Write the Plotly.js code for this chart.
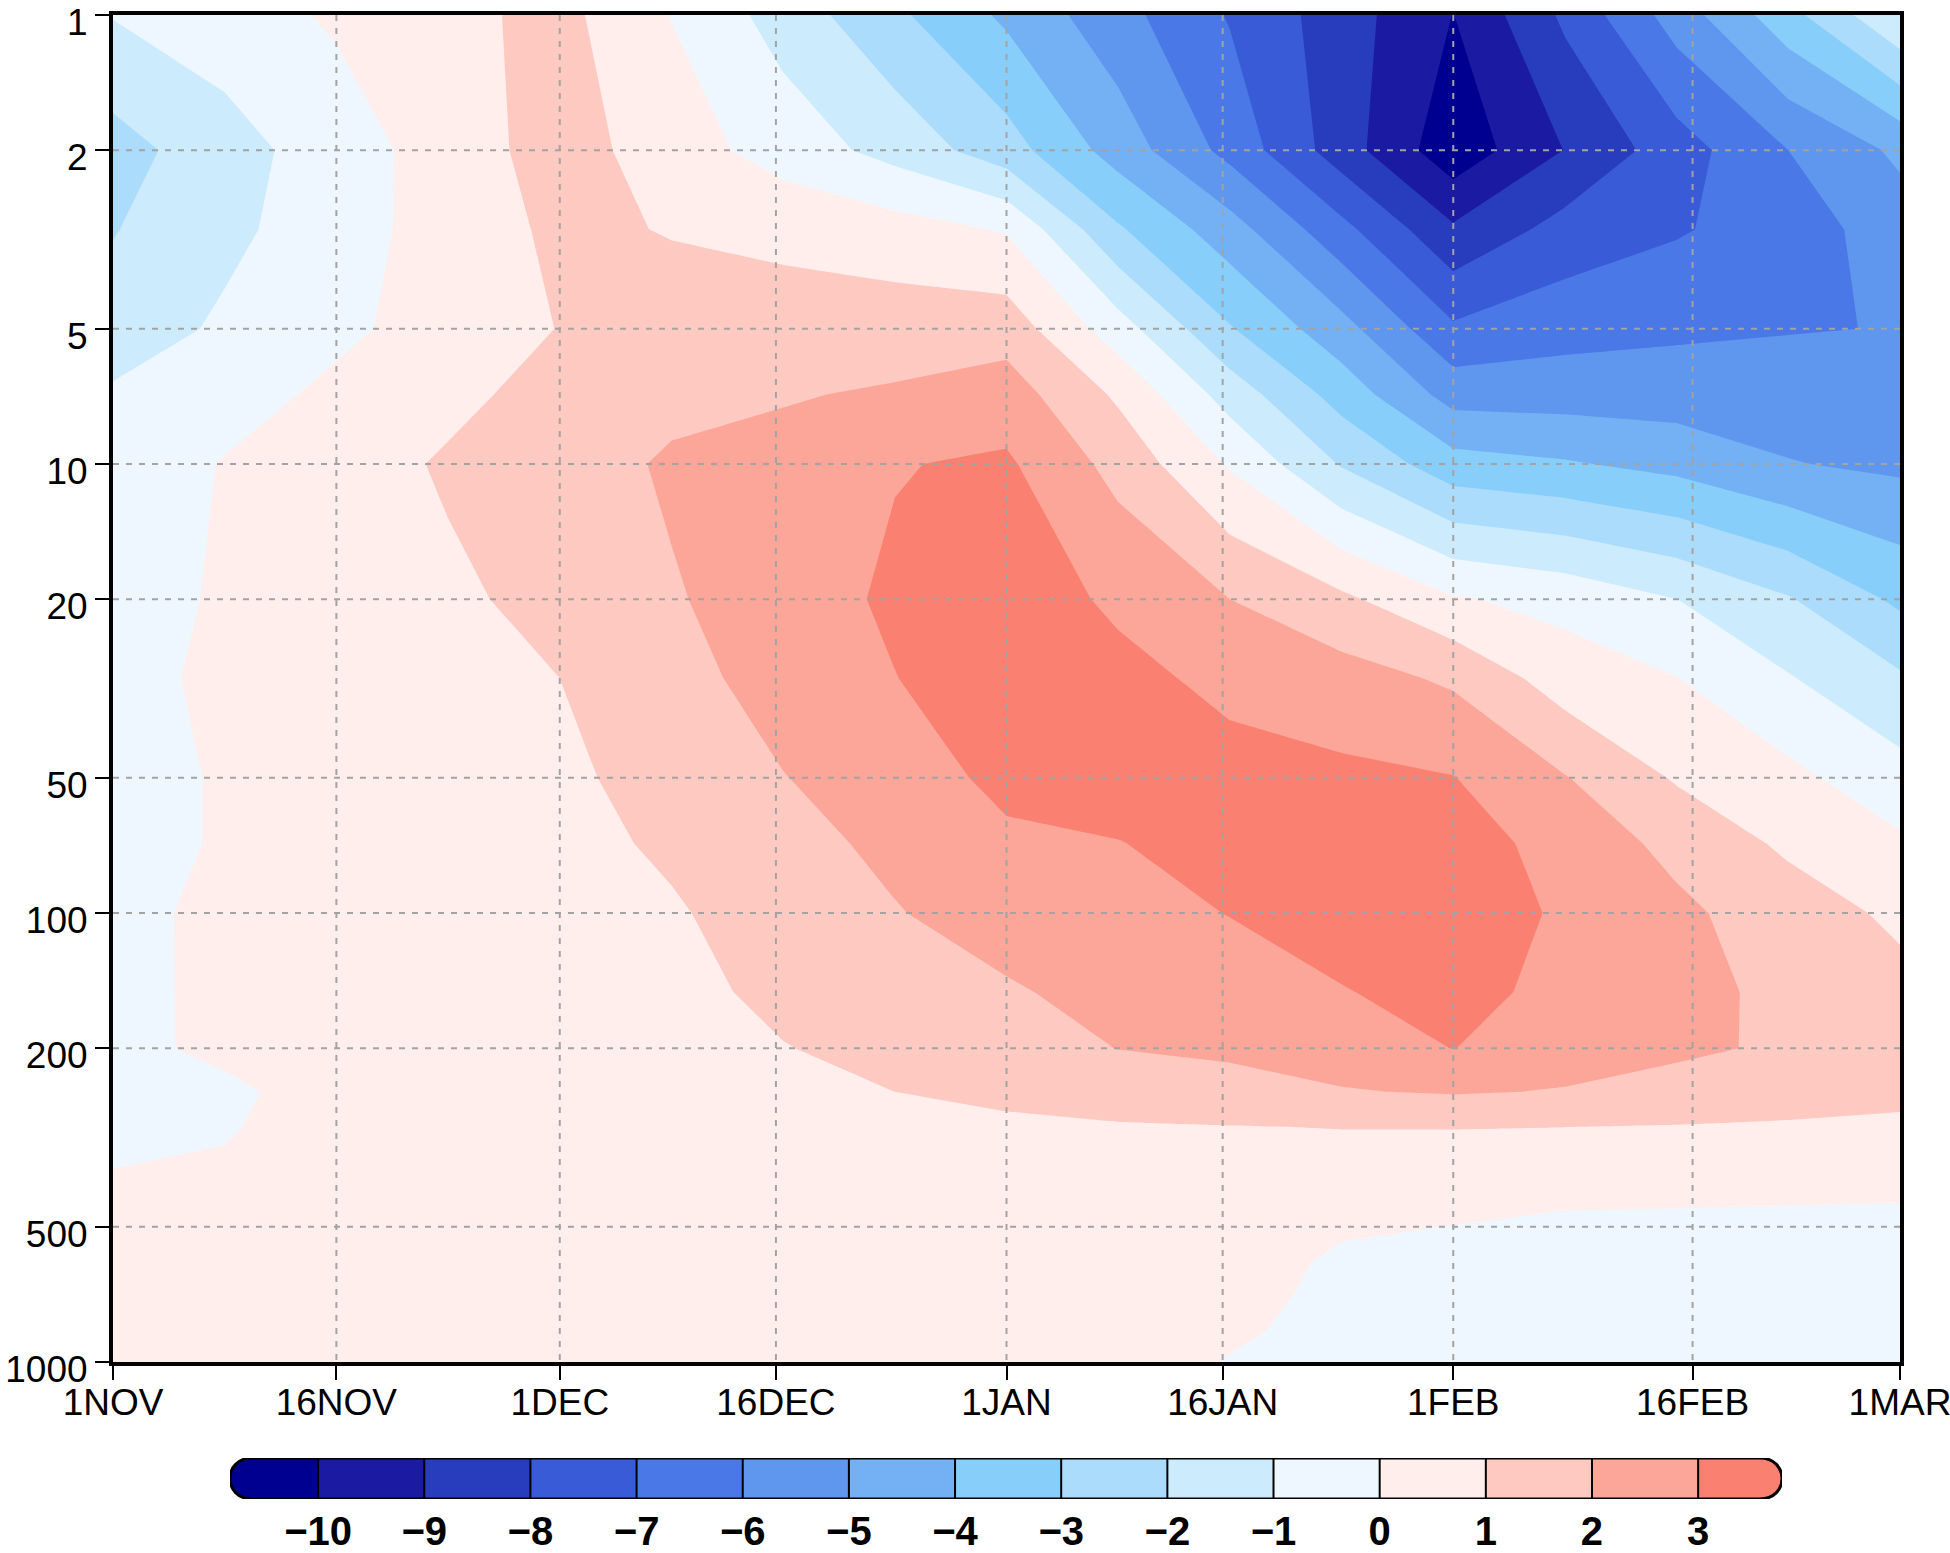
<!DOCTYPE html>
<html><head><meta charset="utf-8">
<script src="https://cdn.plot.ly/plotly-3.0.1.min.js"></script>
<style>html,body{margin:0;padding:0;background:#fff;}#chart{width:1950px;height:1553px;}</style>
</head><body><div id="chart"></div>
<script>
// ---------- data ----------
// time axis in month units (0 = 1NOV, 4 = 1MAR), 1/4-month steps
const timeSteps = [0,0.25,0.5,0.75,1,1.25,1.5,1.75,2,2.25,2.5,2.75,3,3.25,3.5,3.75,4];
const monthLengths = [30,31,31,28];            // NOV, DEC, JAN, FEB
const tickLabels = ['1NOV','16NOV','1DEC','16DEC','1JAN','16JAN','1FEB','16FEB','1MAR'];
const pressureLevels = [1,2,3,5,7,10,20,30,50,70,100,150,200,250,300,400,500,600,700,850,925,1000];
const pressureTicks = [1,2,5,10,20,50,100,200,500,1000];
const contourLevels = [-10,-9,-8,-7,-6,-5,-4,-3,-2,-1,0,1,2,3];
const bandColors = ['#000090','#1a1aa2','#283dbe','#3a5bd8','#4a78e6','#5f96ee','#74b0f4','#87cefa',
                    '#acdcfb','#ccebfd','#eef7ff','#ffeeec','#fdc9c1','#fca699','#fa8072'];

// anomaly values per pressure level (columns follow timeSteps)
const p1hPa    = [-0.95,-0.44,0.13,0.72,1.3,-0.03,-1.42,-2.8,-4.19,-5.65,-7.08,-8.53,-10.02,-7.81,-5.54,-3.34,-1.05];
const p2hPa    = [-2.4,-1.42,-0.48,0.45,1.45,0.5,-0.43,-1.35,-2.57,-4.43,-6.32,-8.52,-10.67,-8.97,-7.46,-6.0,-4.8];
const p3hPa    = [-2.05,-1.25,-0.43,0.42,1.2,0.95,0.72,0.41,-0.09,-2.88,-4.57,-6.7,-8.85,-7.63,-7.1,-6.5,-5.5];
const p5hPa    = [-1.6,-0.83,-0.2,0.4,1.03,1.4,1.5,1.52,1.57,-0.54,-2.92,-4.63,-6.84,-6.37,-6.17,-6.05,-5.97];
const p7hPa    = [-0.85,-0.4,0.21,0.79,1.3,1.7,1.93,2.11,2.48,0.84,-1.43,-3.41,-5.4,-5.44,-5.49,-5.52,-5.7];
const p10hPa   = [-0.7,0.06,0.6,1.1,1.45,2.15,2.3,2.95,3.15,1.67,-0.1,-2.08,-3.6,-3.9,-4.3,-4.95,-5.2];
const p20hPa   = [-0.6,0.17,0.46,0.85,1.25,1.9,2.55,3.15,3.5,2.84,2.0,1.2,0.1,-0.31,-0.99,-1.92,-3.2];
const p30hPa   = [-0.5,0.32,0.4,0.7,1.0,1.65,2.4,2.98,3.55,3.25,2.78,2.4,1.85,0.5,0.02,-0.93,-1.86];
const p50hPa   = [-0.5,0.125,0.35,0.6,0.82,1.35,1.97,2.5,3.25,3.45,3.3,3.2,3.03,2.05,0.9,0.25,-0.63];
const p70hPa   = [-0.5,0.125,0.35,0.55,0.7,1.15,1.7,2.2,2.82,2.97,3.35,3.5,3.5,2.6,1.74,0.82,0.16];
const p100hPa  = [-0.35,0.29,0.4,0.5,0.62,0.9,1.45,1.95,2.4,2.6,3.03,3.45,3.6,2.85,2.2,1.5,0.8];
const p150hPa  = [-0.3,0.245,0.4,0.45,0.55,0.75,1.2,1.6,1.9,2.3,2.5,2.95,3.35,2.7,2.3,1.77,1.3];
const p200hPa  = [-0.25,0.2,0.4,0.45,0.5,0.68,0.97,1.25,1.47,2.02,2.2,2.4,3.02,2.4,2.15,1.88,1.5];
const p250hPa  = [-0.3,-0.18,0.38,0.44,0.48,0.6,0.8,1.0,1.15,1.4,1.6,1.95,2.08,1.95,1.7,1.4,1.2];
const p300hPa  = [-0.2,-0.07,0.38,0.42,0.45,0.55,0.65,0.8,0.88,0.93,0.97,1.02,1.03,1.0,0.95,0.9,0.85];
const p400hPa  = [0.07,0.15,0.38,0.41,0.43,0.5,0.55,0.65,0.7,0.75,0.7,0.5,0.3,0.2,0.18,0.15,0.1];
const p500hPa  = [0.2,0.22,0.38,0.4,0.42,0.45,0.45,0.55,0.6,0.6,0.55,0.08,-0.01,-0.12,-0.13,-0.14,-0.12];
const p600hPa  = [0.25,0.26,0.37,0.39,0.41,0.43,0.43,0.52,0.55,0.5,0.3,-0.11,-0.2,-0.25,-0.25,-0.22,-0.2];
const p700hPa  = [0.28,0.28,0.37,0.38,0.4,0.4,0.42,0.5,0.5,0.45,0.25,-0.18,-0.28,-0.3,-0.3,-0.28,-0.28];
const p850hPa  = [0.3,0.3,0.36,0.37,0.39,0.39,0.4,0.45,0.45,0.4,0.1,-0.2,-0.33,-0.35,-0.33,-0.3,-0.3];
const p925hPa  = [0.3,0.3,0.36,0.36,0.38,0.38,0.38,0.42,0.42,0.37,0.03,-0.25,-0.35,-0.37,-0.35,-0.32,-0.32];
const p1000hPa = [0.3,0.3,0.36,0.36,0.38,0.38,0.38,0.4,0.4,0.35,-0.04,-0.3,-0.38,-0.4,-0.38,-0.35,-0.35];

const zRows = [p1hPa,p2hPa,p3hPa,p5hPa,p7hPa,p10hPa,p20hPa,p30hPa,p50hPa,p70hPa,p100hPa,p150hPa,
               p200hPa,p250hPa,p300hPa,p400hPa,p500hPa,p600hPa,p700hPa,p850hPa,p925hPa,p1000hPa];

// ---------- derived ----------
const timeTicks = [];
monthLengths.forEach((len, m) => { timeTicks.push(m); timeTicks.push(m + 15 / len); });
timeTicks.push(monthLengths.length);
const logP = pressureLevels.map(p => Math.log10(p));
const logTicks = pressureTicks.map(p => Math.log10(p));
const nb = bandColors.length;
const contourScale = bandColors.map((c, i) => [i / (nb - 1), c]);
const stepScale = [];
bandColors.forEach((c, i) => { stepScale.push([i / nb, c]); stepScale.push([(i + 1) / nb, c]); });

// colour-bar geometry in its own axis units (one unit per contour interval)
const lo = contourLevels[0], hi = contourLevels[contourLevels.length - 1];
const capL = 0.83, capR = 0.79;

const traces = [
  {
    type: 'contour', x: timeSteps, y: logP, z: zRows,
    autocontour: false,
    contours: {start: lo, end: hi, size: 1, coloring: 'fill', showlines: false},
    colorscale: contourScale, showscale: false, line: {width: 0, smoothing: 0},
    hoverinfo: 'skip', xaxis: 'x', yaxis: 'y'
  },
  {
    type: 'heatmap', x: contourLevels, y: [0, 1],
    z: [contourLevels.slice(1).map((v, i) => i + 1)],
    colorscale: stepScale, zmin: 0, zmax: nb, showscale: false,
    hoverinfo: 'skip', xaxis: 'x2', yaxis: 'y2'
  }
];

const grid = {color: '#a3a3a3', width: 2, dash: '6px,7px'};
const shapes = [];
timeTicks.slice(1, -1).forEach(t => shapes.push({type: 'line', xref: 'x', yref: 'y', x0: t, x1: t,
  y0: logTicks[0], y1: logTicks[logTicks.length - 1], line: grid, layer: 'above'}));
logTicks.slice(1, -1).forEach(v => shapes.push({type: 'line', xref: 'x', yref: 'y', x0: timeSteps[0],
  x1: timeSteps[timeSteps.length - 1], y0: v, y1: v, line: grid, layer: 'above'}));

// rounded end caps of the colour bar
const lx = lo - capL, rx = hi + capR;
const lA = lx + 0.21, lB = lx - 0.07, rA = rx - 0.21, rB = rx + 0.07;
shapes.push({type: 'path', xref: 'x2', yref: 'y2', layer: 'above', fillcolor: bandColors[0],
  line: {width: 0}, path: `M ${lo},0 L ${lA},0 C ${lB},0 ${lB},1 ${lA},1 L ${lo},1 Z`});
shapes.push({type: 'path', xref: 'x2', yref: 'y2', layer: 'above', fillcolor: bandColors[nb - 1],
  line: {width: 0}, path: `M ${hi},0 L ${rA},0 C ${rB},0 ${rB},1 ${rA},1 L ${hi},1 Z`});
contourLevels.forEach(v => shapes.push({type: 'line', xref: 'x2', yref: 'y2', x0: v, x1: v, y0: 0, y1: 1,
  layer: 'above', line: {color: '#000', width: 2}}));
shapes.push({type: 'path', xref: 'x2', yref: 'y2', layer: 'above', fillcolor: 'rgba(0,0,0,0)',
  line: {color: '#000', width: 3},
  path: `M ${lA},0 L ${rA},0 C ${rB},0 ${rB},1 ${rA},1 L ${lA},1 C ${lB},1 ${lB},0 ${lA},0 Z`});

const W = 1950, H = 1553, mL = 113, mR = 50, mT = 15, mB = 0;
const areaW = W - mL - mR, areaH = H - mT - mB;
const tickFont = {family: 'Liberation Sans, Arial, sans-serif', size: 37, color: '#000'};

const layout = {
  width: W, height: H, margin: {l: mL, r: mR, t: mT, b: mB},
  paper_bgcolor: '#fff', plot_bgcolor: '#fff', showlegend: false,
  xaxis: {domain: [0, 1], range: [timeSteps[0], timeSteps[timeSteps.length - 1]], anchor: 'y',
    tickmode: 'array', tickvals: timeTicks, ticktext: tickLabels, ticks: 'outside', ticklen: 14,
    tickwidth: 2, tickcolor: '#000', showline: true, linewidth: 4, linecolor: '#000', mirror: true,
    showgrid: false, zeroline: false, tickfont: tickFont, ticklabelstandoff: -9,
    ticklabeloverflow: 'allow', automargin: false},
  yaxis: {domain: [(H - 1362) / areaH, 1], range: [logTicks[logTicks.length - 1], logTicks[0]], anchor: 'x',
    tickmode: 'array', tickvals: logTicks, ticktext: pressureTicks.map(String), ticks: 'outside', ticklen: 14,
    tickwidth: 2, tickcolor: '#000', showline: true, linewidth: 4, linecolor: '#000', mirror: true,
    showgrid: false, zeroline: false, tickfont: tickFont, ticklabelstandoff: 0, ticklabelshift: -7,
    ticklabeloverflow: 'allow', automargin: false},
  xaxis2: {domain: [(230 - mL) / areaW, (1782 - mL) / areaW], range: [lx, rx], anchor: 'y2',
    tickmode: 'array', tickvals: contourLevels, ticks: '', showline: false, showgrid: false, zeroline: false,
    tickfont: {family: 'Liberation Sans Narrow, Arial Narrow, sans-serif', size: 40, color: '#000', weight: 'bold'},
    ticklabelstandoff: 5, ticklabeloverflow: 'allow', automargin: false},
  yaxis2: {domain: [(H - 1499) / areaH, (H - 1458) / areaH], range: [0, 1], anchor: 'x2', visible: false},
  shapes: shapes
};

Plotly.newPlot('chart', traces, layout, {staticPlot: true, displayModeBar: false});
</script></body></html>
